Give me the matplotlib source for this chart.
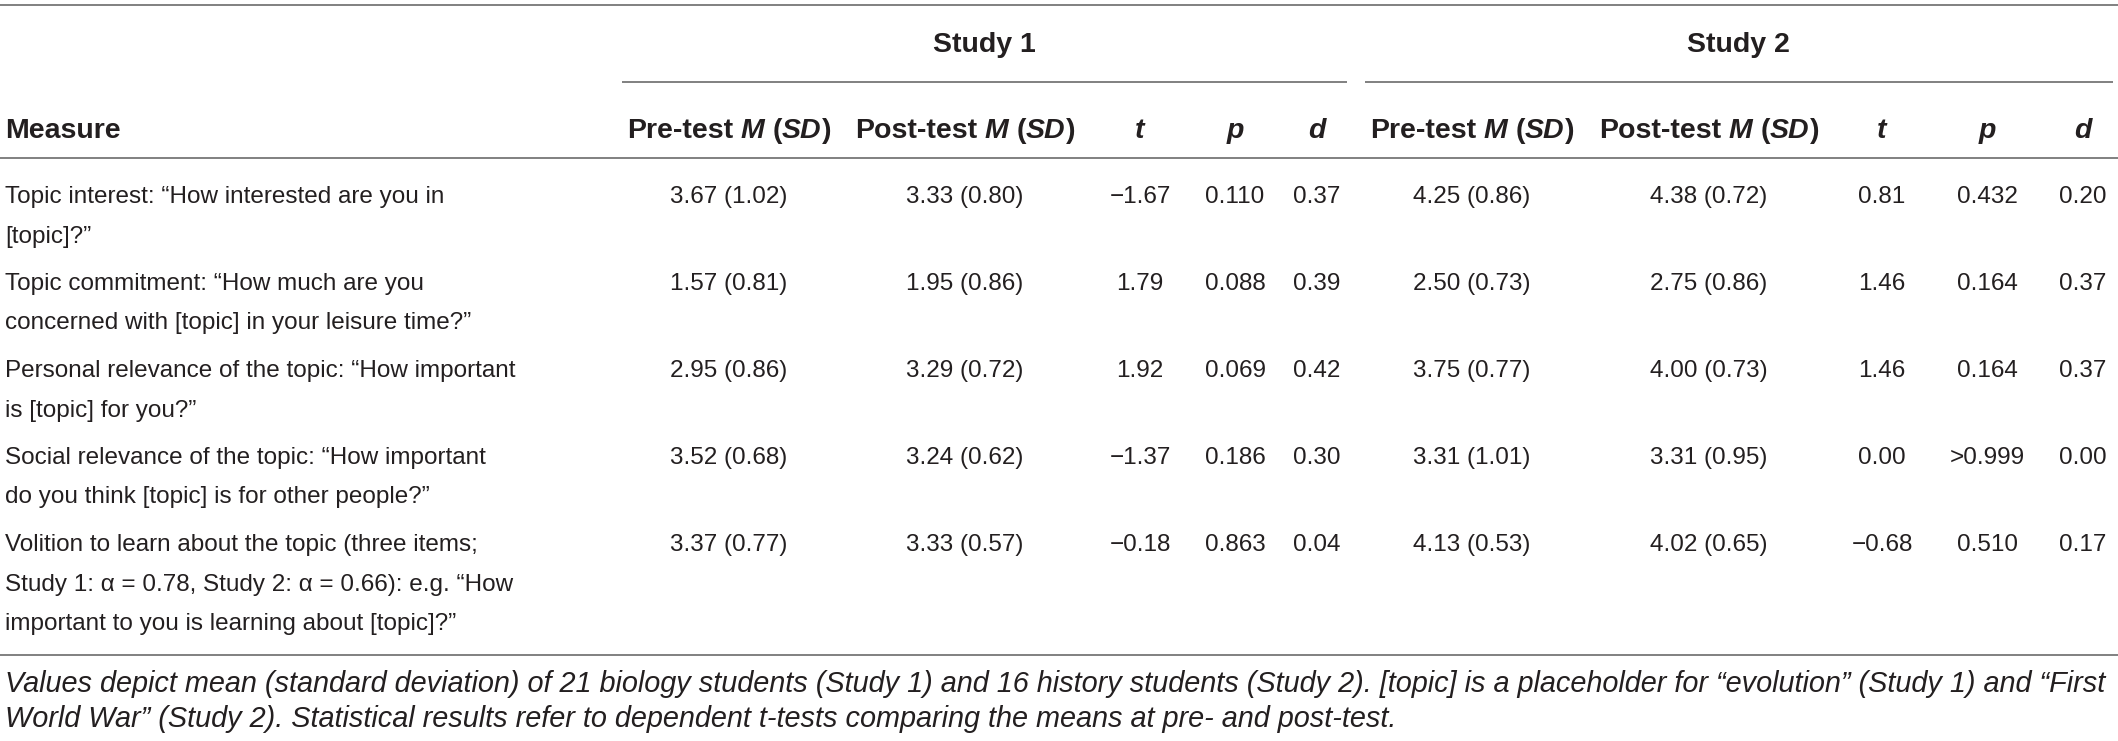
import matplotlib
matplotlib.use('Agg')
import matplotlib.pyplot as plt

# table contents
measures = [
    ['Topic interest: \u201cHow interested are you in', '[topic]?\u201d'],
    ['Topic commitment: \u201cHow much are you', 'concerned with [topic] in your leisure time?\u201d'],
    ['Personal relevance of the topic: \u201cHow important', 'is [topic] for you?\u201d'],
    ['Social relevance of the topic: \u201cHow important', 'do you think [topic] is for other people?\u201d'],
    ['Volition to learn about the topic (three items;',
     'Study 1: \u03b1 = 0.78, Study 2: \u03b1 = 0.66): e.g. \u201cHow',
     'important to you is learning about [topic]?\u201d'],
]
s1_pre_m = [3.67, 1.57, 2.95, 3.52, 3.37]
s1_pre_sd = [1.02, 0.81, 0.86, 0.68, 0.77]
s1_post_m = [3.33, 1.95, 3.29, 3.24, 3.33]
s1_post_sd = [0.80, 0.86, 0.72, 0.62, 0.57]
s1_t = [-1.67, 1.79, 1.92, -1.37, -0.18]
s1_p = ['0.110', '0.088', '0.069', '0.186', '0.863']
s1_d = [0.37, 0.39, 0.42, 0.30, 0.04]
s2_pre_m = [4.25, 2.50, 3.75, 3.31, 4.13]
s2_pre_sd = [0.86, 0.73, 0.77, 1.01, 0.53]
s2_post_m = [4.38, 2.75, 4.00, 3.31, 4.02]
s2_post_sd = [0.72, 0.86, 0.73, 0.95, 0.65]
s2_t = [0.81, 1.46, 1.46, 0.00, -0.68]
s2_p = ['0.432', '0.164', '0.164', '>0.999', '0.510']
s2_d = [0.20, 0.37, 0.37, 0.00, 0.17]
studies = ['Study 1', 'Study 2']
footnote = [
    'Values depict mean (standard deviation) of 21 biology students (Study 1) and 16 history students (Study 2). '
    '[topic] is a placeholder for \u201cevolution\u201d (Study 1) and \u201cFirst',
    'World War\u201d (Study 2). Statistical results refer to dependent t-tests comparing the means at pre- and post-test.',
]

W, H = 2118, 741
txt_col = '#231f20'
rule_col = '#808080'
fam = 'Liberation Sans'
fs = 17.5      # body text, points
hfs = 20.5     # header text

fig = plt.figure(figsize=(W / 100, H / 100), dpi=100)
ax = fig.add_axes([0, 0, 1, 1])
ax.set_xlim(0, W)
ax.set_ylim(H, 0)
ax.set_axis_off()
renderer = fig.canvas.get_renderer()


def fmt_num(v):
    return ('%.2f' % v).replace('-', '\u2212')


def rule(y, x0=0, x1=W):
    ax.plot([x0, x1], [y, y], color=rule_col, lw=1.4, solid_capstyle='butt')


def parts_text(xc, y, parts, size):
    # draw bold / bold-italic pieces side by side, centred on xc
    gap = 0.278 * size * 100 / 72
    objs, widths = [], []
    for s, style in parts:
        if s == ' ':
            objs.append(None)
            widths.append(gap)
            continue
        t = ax.text(0, y, s, fontsize=size, family=fam, weight='bold', style=style,
                    color=txt_col, ha='left', va='baseline')
        widths.append(t.get_window_extent(renderer).width)
        objs.append(t)
    x = xc - sum(widths) / 2
    for t, w in zip(objs, widths):
        if t is not None:
            t.set_x(x)
        x += w


# rules
rule(5)
rule(82, 622, 1347)
rule(82, 1365, 2113)
rule(158)
rule(655)

# spanner labels
for s, xc in zip(studies, [984, 1738]):
    ax.text(xc, 52, s, fontsize=hfs, family=fam, weight='bold', color=txt_col,
            ha='center', va='baseline')

# column headers
hy = 138
ax.text(5, hy, 'Measure', fontsize=hfs, family=fam, weight='bold', color=txt_col,
        ha='left', va='baseline')
col_x = [729, 965, 1140, 1235, 1317, 1472, 1709, 1882, 1987, 2083]
pre = [('Pre-test', 'normal'), (' ', None), ('M', 'italic'), (' ', None),
       ('(', 'normal'), ('SD', 'italic'), (')', 'normal')]
post = [('Post-test', 'normal'), (' ', None), ('M', 'italic'), (' ', None),
        ('(', 'normal'), ('SD', 'italic'), (')', 'normal')]
heads = [pre, post, [('t', 'italic')], [('p', 'italic')], [('d', 'italic')]] * 2
for xc, parts in zip(col_x, heads):
    parts_text(xc, hy, parts, hfs)

# body: baselines, 39.5 px between lines of a row, 47.5 px to the next row
yb = 203
line_gap = 39.5
row_gap = 47.5
for i in range(len(measures)):
    row = [
        '%.2f (%.2f)' % (s1_pre_m[i], s1_pre_sd[i]),
        '%.2f (%.2f)' % (s1_post_m[i], s1_post_sd[i]),
        fmt_num(s1_t[i]), s1_p[i], fmt_num(s1_d[i]),
        '%.2f (%.2f)' % (s2_pre_m[i], s2_pre_sd[i]),
        '%.2f (%.2f)' % (s2_post_m[i], s2_post_sd[i]),
        fmt_num(s2_t[i]), s2_p[i], fmt_num(s2_d[i]),
    ]
    for xc, s in zip(col_x, row):
        ax.text(xc, yb, s, fontsize=fs, family=fam, color=txt_col,
                ha='center', va='baseline')
    for k, s in enumerate(measures[i]):
        ax.text(5, yb + line_gap * k, s, fontsize=fs, family=fam,
                color=txt_col, ha='left', va='baseline')
    yb += line_gap * (len(measures[i]) - 1) + row_gap

# footnote, sized so the first line fills the width
f1 = ax.text(5, 692, footnote[0], fontsize=fs, family=fam, style='italic',
             color=txt_col, ha='left', va='baseline')
wid = f1.get_window_extent(renderer).width
ffs = fs * 2105 / wid
f1.set_fontsize(ffs)
ax.text(5, 727, footnote[1], fontsize=ffs, family=fam, style='italic',
        color=txt_col, ha='left', va='baseline')

fig.savefig('out.png', dpi=100)
